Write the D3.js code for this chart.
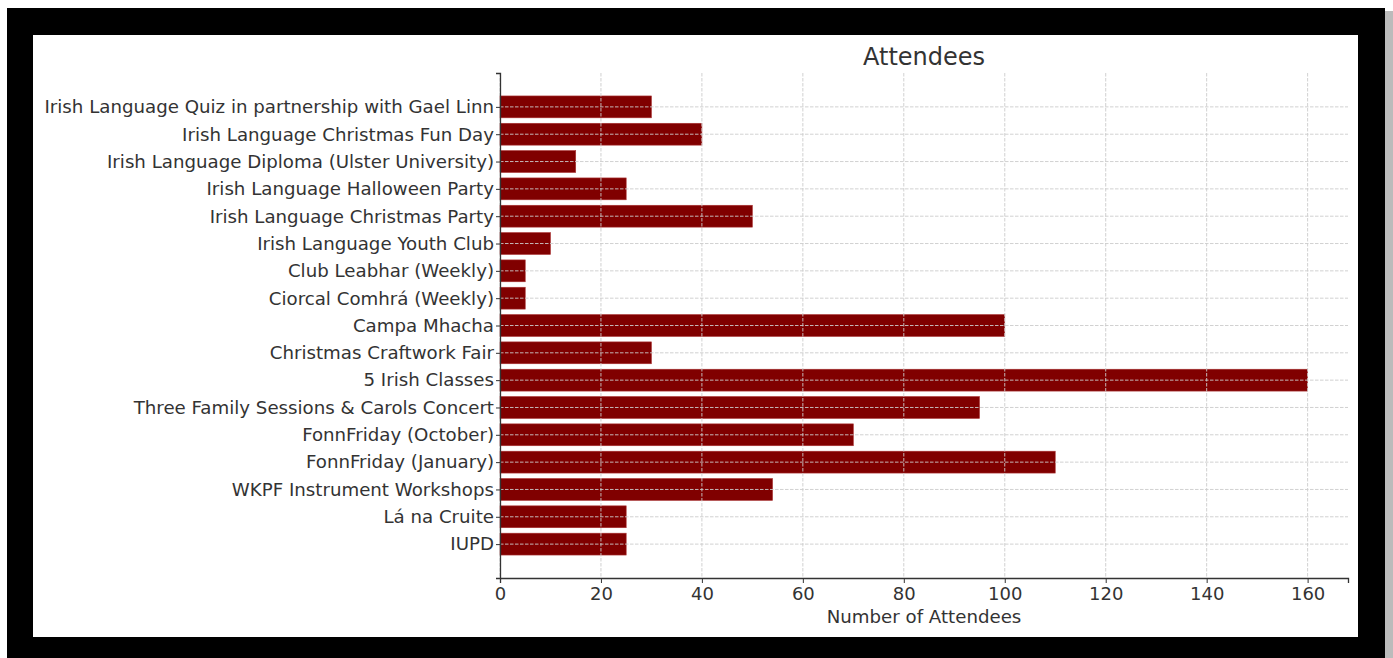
<!DOCTYPE html>
<html>
<head>
<meta charset="utf-8">
<script src="https://cdn.jsdelivr.net/npm/d3@7"></script>
<style>
  html, body { margin: 0; padding: 0; background: #fff; }
  svg text { font-family: "DejaVu Sans", sans-serif; fill: #333; }
</style>
</head>
<body>
<svg width="1393" height="658"></svg>
<script>
// events, top to bottom as shown in the picture
var events = [
  "Irish Language Quiz in partnership with Gael Linn",
  "Irish Language Christmas Fun Day",
  "Irish Language Diploma (Ulster University)",
  "Irish Language Halloween Party",
  "Irish Language Christmas Party",
  "Irish Language Youth Club",
  "Club Leabhar (Weekly)",
  "Ciorcal Comhrá (Weekly)",
  "Campa Mhacha",
  "Christmas Craftwork Fair",
  "5 Irish Classes",
  "Three Family Sessions & Carols Concert",
  "FonnFriday (October)",
  "FonnFriday (January)",
  "WKPF Instrument Workshops",
  "Lá na Cruite",
  "IUPD"
];
var attendees = [30, 40, 15, 25, 50, 10, 5, 5, 100, 30, 160, 95, 70, 110, 54, 25, 25];
var xTicks = [0, 20, 40, 60, 80, 100, 120, 140, 160];

var svg = d3.select("svg");

// black frame + shadow
svg.append("rect").attr("x", 10).attr("y", 11).attr("width", 1383).attr("height", 647).attr("fill", "#bbb");
svg.append("rect").attr("x", 7).attr("y", 8).attr("width", 1378).attr("height", 650).attr("fill", "#000");
svg.append("rect").attr("x", 33).attr("y", 35).attr("width", 1325).attr("height", 602).attr("fill", "#fff");

// plot area (top/left are taken by window, so prefixed)
var pLeft = 500, pRight = 1348, pTop = 73, pBottom = 578;

var x = d3.scaleLinear().domain([0, 168]).range([pLeft, pRight]);
// category index scale, matplotlib-style margins
var yIdx = d3.scaleLinear().domain([-1.24, 17.24]).range([pTop, pBottom]);
var barH = (yIdx(0.8) - yIdx(0));

var g = svg.append("g");

// bars
g.selectAll("rect.bar")
  .data(attendees)
  .enter().append("rect")
  .attr("class", "bar")
  .attr("x", x(0))
  .attr("y", function(d, i) { return yIdx(i) - barH / 2; })
  .attr("width", function(d) { return x(d) - x(0); })
  .attr("height", barH)
  .attr("fill", "#800000")
  .attr("stroke", "#a33")
  .attr("stroke-width", 0.6);

// grid on top of bars
g.selectAll("line.vgrid")
  .data(xTicks)
  .enter().append("line")
  .attr("x1", function(d) { return x(d); })
  .attr("x2", function(d) { return x(d); })
  .attr("y1", pTop).attr("y2", pBottom)
  .attr("stroke", "#ccc").attr("stroke-width", 0.9)
  .attr("stroke-dasharray", "3.5,1.5");

g.selectAll("line.hgrid")
  .data(events)
  .enter().append("line")
  .attr("x1", pLeft).attr("x2", pRight)
  .attr("y1", function(d, i) { return yIdx(i); })
  .attr("y2", function(d, i) { return yIdx(i); })
  .attr("stroke", "#ccc").attr("stroke-width", 0.9)
  .attr("stroke-dasharray", "3.5,1.5");

// axes
var xAxis = d3.axisBottom(x).tickValues(xTicks).tickSize(5).tickPadding(4);
var gx = svg.append("g").attr("transform", "translate(0," + pBottom + ")").call(xAxis);
gx.select(".domain").attr("stroke", "#333").attr("stroke-width", 1.3);
gx.selectAll(".tick line").attr("stroke", "#333");
gx.selectAll(".tick text").attr("font-size", "18px").attr("fill", "#333");

var yAxis = d3.axisLeft(yIdx).tickValues(d3.range(events.length))
  .tickFormat(function(i) { return events[i]; }).tickSize(4).tickPadding(2);
var gy = svg.append("g").attr("transform", "translate(" + pLeft + ",0)").call(yAxis);
gy.select(".domain").attr("stroke", "#333").attr("stroke-width", 1.3);
gy.selectAll(".tick line").attr("stroke", "#333");
gy.selectAll(".tick text").attr("font-size", "18.2px").attr("fill", "#333");

// title and label
svg.append("text").attr("x", (pLeft + pRight) / 2).attr("y", 65)
  .attr("text-anchor", "middle").attr("font-size", "24px").text("Attendees");
svg.append("text").attr("x", (pLeft + pRight) / 2).attr("y", 623)
  .attr("text-anchor", "middle").attr("font-size", "18.2px").text("Number of Attendees");
</script>
</body>
</html>
